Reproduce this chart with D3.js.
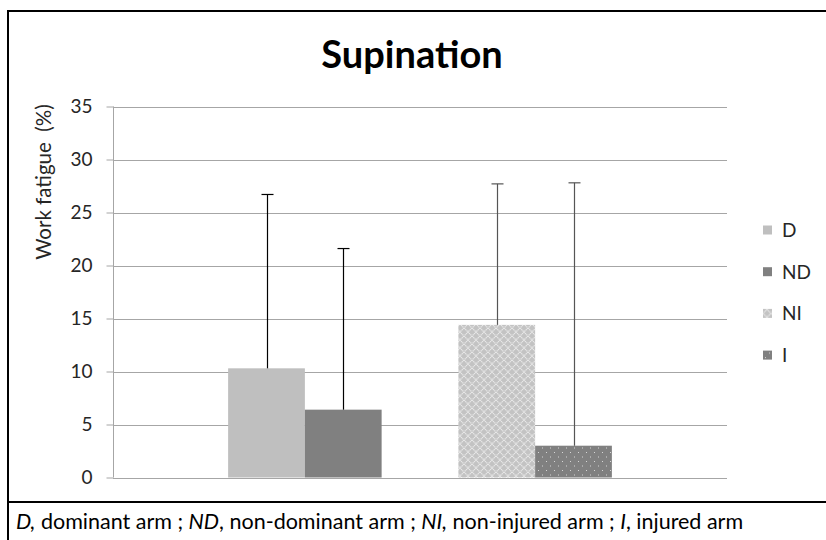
<!DOCTYPE html>
<html>
  <head>
    <title>Supination</title>
    <script src="https://d3js.org/d3.v7.min.js" charset="utf-8"></script>
    <style type="text/css">
      body { margin: 0; background: #fff; }
      text { font-family: Lato, "Open Sans", sans-serif; fill: #000; }
      .axis path { display: none; }
      .axis line { stroke: #a6a6a6; }
      .axis text { font-size: 19px; fill: #262626; }
    </style>
  </head>

  <body>
    <script type="text/javascript">

      // Data
      var series = ["D", "ND", "NI", "I"];
      var slots = ["D", "ND", "", "NI", "I"];   // one empty slot between the two pairs
      var means = [10.3, 6.4, 14.4, 3.0];
      var sds = [16.4, 15.2, 13.3, 24.8];
      var yTicks = [0, 5, 10, 15, 20, 25, 30, 35];

      var width = 826;
      var height = 540;
      var plot = {left: 113, right: 727, top: 106.5, bottom: 477.5};

      var svg = d3.select("body")
          .append("svg")
          .attr("width", width)
          .attr("height", height);

      // Patterns for NI and I
      var defs = svg.append("defs");
      var lattice = defs.append("pattern")
          .attr("id", "lattice")
          .attr("patternUnits", "userSpaceOnUse")
          .attr("width", 8)
          .attr("height", 8);
      lattice.append("rect").attr("width", 8).attr("height", 8).style("fill", "#c3c3c3");
      lattice.append("path")
          .attr("d", "M0,0L8,8M8,0L0,8")
          .style("stroke", "#e8e8e8")
          .style("stroke-width", 1.3)
          .style("stroke-dasharray", "1.2,0.6");

      var dots = defs.append("pattern")
          .attr("id", "dots")
          .attr("patternUnits", "userSpaceOnUse")
          .attr("width", 8)
          .attr("height", 9);
      dots.append("rect").attr("width", 8).attr("height", 9).style("fill", "#808080");
      dots.append("rect").attr("x", 2).attr("y", 2).attr("width", 1).attr("height", 1).style("fill", "#d6d6d6");
      dots.append("rect").attr("x", 6).attr("y", 6.5).attr("width", 1).attr("height", 1).style("fill", "#d6d6d6");

      var fills = {"D": "#bfbfbf", "ND": "#808080", "NI": "url(#lattice)", "I": "url(#dots)"};
      var errColor = {"D": "#000", "ND": "#000", "NI": "#555", "I": "#555"};

      // Scales
      var x = d3.scaleBand()
          .domain(slots)
          .range([plot.left, plot.right])
          .paddingInner(0)
          .paddingOuter(1.5);

      var y = d3.scaleLinear()
          .domain([0, 35])
          .range([plot.bottom, plot.top]);

      // Gridlines
      svg.append("g")
          .selectAll("line")
          .data(yTicks)
          .enter()
          .append("line")
          .attr("x1", plot.left)
          .attr("x2", plot.right)
          .attr("y1", function(d) { return Math.round(y(d)) + 0.5; })
          .attr("y2", function(d) { return Math.round(y(d)) + 0.5; })
          .style("stroke", "#a6a6a6");

      // Y axis
      var yAxis = svg.append("g")
          .attr("class", "axis")
          .attr("transform", "translate(" + (plot.left + 0.5) + ",0)")
          .call(d3.axisLeft(y).tickValues(yTicks).tickSize(7).tickPadding(14));
      yAxis.select(".domain").remove();
      yAxis.append("line")
          .attr("y1", plot.top)
          .attr("y2", plot.bottom)
          .style("stroke", "#a6a6a6");

      // Bars
      var rows = series.map(function(s, i) { return {key: s, mean: means[i], sd: sds[i]}; });

      svg.append("g")
          .selectAll("rect")
          .data(rows)
          .enter()
          .append("rect")
          .attr("x", function(d) { return x(d.key); })
          .attr("y", function(d) { return y(d.mean); })
          .attr("width", x.bandwidth())
          .attr("height", function(d) { return y(0) - y(d.mean); })
          .style("fill", function(d) { return fills[d.key]; });

      // Error bars (upper only)
      var err = svg.append("g")
          .selectAll("g")
          .data(rows)
          .enter()
          .append("g")
          .style("stroke", function(d) { return errColor[d.key]; })
          .style("stroke-width", 1.2);
      err.append("line")
          .attr("x1", function(d) { return Math.round(x(d.key) + x.bandwidth() / 2) + 0.5; })
          .attr("x2", function(d) { return Math.round(x(d.key) + x.bandwidth() / 2) + 0.5; })
          .attr("y1", function(d) { return y(d.mean); })
          .attr("y2", function(d) { return y(d.mean + d.sd); });
      err.append("line")
          .attr("x1", function(d) { return Math.round(x(d.key) + x.bandwidth() / 2) - 5.5; })
          .attr("x2", function(d) { return Math.round(x(d.key) + x.bandwidth() / 2) + 6.5; })
          .attr("y1", function(d) { return y(d.mean + d.sd); })
          .attr("y2", function(d) { return y(d.mean + d.sd); });

      // Title
      svg.append("text")
          .attr("x", 412)
          .attr("y", 68)
          .attr("text-anchor", "middle")
          .style("font-size", "38px")
          .style("font-weight", "bold")
          .text("Supination");

      // Y axis title
      svg.append("text")
          .attr("transform", "translate(51,182) rotate(-90)")
          .attr("text-anchor", "middle")
          .attr("xml:space", "preserve")
          .style("white-space", "pre")
          .style("font-size", "20.5px")
          .style("fill", "#262626")
          .text("Work fatigue  (%)");

      // Legend
      var legend = svg.append("g")
          .selectAll("g")
          .data(series)
          .enter()
          .append("g")
          .attr("transform", function(d, i) { return "translate(763," + (230 + i * 41.7) + ")"; });
      legend.append("rect")
          .attr("x", 0)
          .attr("y", -4.5)
          .attr("width", 9)
          .attr("height", 9)
          .style("fill", function(d) { return fills[d]; });
      legend.append("text")
          .attr("x", 19)
          .attr("dy", "0.36em")
          .style("font-size", "19px")
          .style("fill", "#262626")
          .text(function(d) { return d; });

      // Frame and footnote box
      svg.append("rect")
          .attr("x", 8)
          .attr("y", 11)
          .attr("width", 840)
          .attr("height", 560)
          .style("fill", "none")
          .style("stroke", "#000")
          .style("stroke-width", 2);
      svg.append("line")
          .attr("x1", 8)
          .attr("x2", width)
          .attr("y1", 502)
          .attr("y2", 502)
          .style("stroke", "#000")
          .style("stroke-width", 2);

      var note = svg.append("text")
          .attr("x", 16)
          .attr("y", 529)
          .attr("xml:space", "preserve")
          .style("white-space", "pre")
          .style("font-size", "21.5px");
      var parts = [["D,", true], [" dominant arm ; ", false], ["ND", true], [", non-dominant arm ; ", false],
                   ["NI,", true], [" non-injured arm ; ", false], ["I", true], [", injured arm", false]];
      parts.forEach(function(p) {
        note.append("tspan")
            .style("font-style", p[1] ? "italic" : "normal")
            .text(p[0]);
      });

    </script>
  </body>
</html>
